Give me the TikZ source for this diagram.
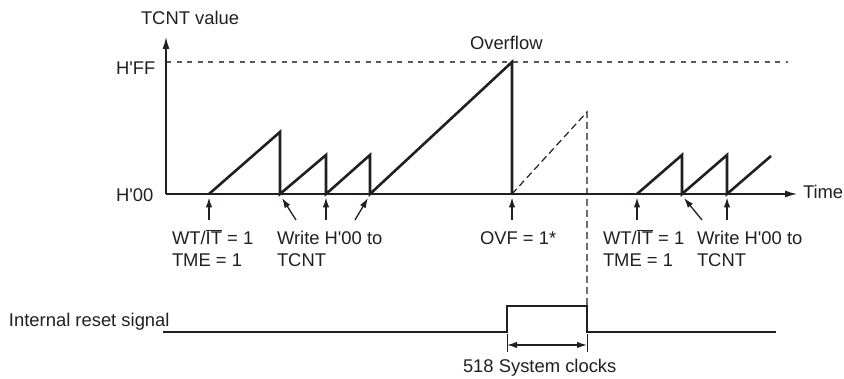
\documentclass[tikz,border=0pt]{standalone}
\usepackage{fontspec}
\setmainfont{Liberation Sans}
\usetikzlibrary{arrows.meta}
\definecolor{ink}{RGB}{35,31,32}
\newcommand{\sq}{\textquotesingle}
\begin{document}
\begin{tikzpicture}[x=1pt,y=-1pt,
 every node/.style={inner sep=0pt,outer sep=0pt,text=ink,font=\fontsize{18.4}{22}\selectfont},
 lbl/.style={anchor=base west},
 axisline/.style={draw=ink,line width=1.3pt,-{Latex[length=12pt,width=7pt]}},
 sig/.style={draw=ink,line width=2.6pt,line join=miter},
 ptr/.style={draw=ink,line width=1.3pt,-{Latex[length=10pt,width=6.5pt]}},
 refline/.style={draw=ink!75,line width=1.2pt,dash pattern=on 5pt off 5.5pt},
 ghost/.style={draw=ink,line width=1.2pt,dash pattern=on 7pt off 4pt},
 thin/.style={draw=ink,line width=0.9pt},
]
\useasboundingbox (0,0) rectangle (844,379);

% axes
\coordinate (o) at (166,194);
\coordinate (ytop) at (166,37);
\coordinate (xend) at (797,194);
\coordinate (ffL) at (166,62);
\coordinate (ffR) at (788,62);
\draw[refline] (ffL) -- (ffR);
\draw[axisline] (o) -- (ytop);
\draw[axisline] (o) -- (xend);

% sawtooth, left part
\coordinate (a0) at (209,194);
\coordinate (a1) at (280,132);
\coordinate (a2) at (280,194);
\coordinate (a3) at (326,155);
\coordinate (a4) at (326,194);
\coordinate (a5) at (370,155);
\coordinate (a6) at (370,194);
\coordinate (a7) at (512,62);
\coordinate (a8) at (512,194);
\draw[sig] (a0) -- (a1) -- (a2) -- (a3) -- (a4) -- (a5) -- (a6) -- (a7) -- (a8);

% ghost ramp after overflow
\coordinate (g1) at (587,112);
\coordinate (r3) at (587,306);
\draw[ghost] (a8) -- (g1) -- (r3);

% sawtooth, right part
\coordinate (b0) at (637,194);
\coordinate (b1) at (682,155);
\coordinate (b2) at (682,194);
\coordinate (b3) at (727,155);
\coordinate (b4) at (727,194);
\coordinate (b5) at (771,156);
\draw[sig] (b0) -- (b1) -- (b2) -- (b3) -- (b4) -- (b5);

% pointer arrows
\coordinate (p1t) at (209,220); \coordinate (p1h) at (209,197.5);
\coordinate (p2t) at (296,220); \coordinate (p2h) at (282,198);
\coordinate (p3t) at (326,220); \coordinate (p3h) at (326,197.5);
\coordinate (p4t) at (355,220); \coordinate (p4h) at (368,198);
\coordinate (p5t) at (512,220); \coordinate (p5h) at (512,197.5);
\coordinate (p6t) at (637,220); \coordinate (p6h) at (637,197.5);
\coordinate (p7t) at (702,220); \coordinate (p7h) at (684,198);
\coordinate (p8t) at (727,220); \coordinate (p8h) at (727,197.5);
\foreach \i in {1,...,8} {\draw[ptr] (p\i t) -- (p\i h);}

% labels
\node[lbl] (tcntv) at (141,25) {TCNT value};
\node[lbl] (hff) at (116,75) {H\sq FF};
\node[lbl] (h00) at (116,202) {H\sq 00};
\node[lbl] (ovfl) at (470,49.5) {Overflow};
\node[lbl] (time) at (803,198.5) {Time};
\node[lbl] (wt1) at (172,244.5) {WT/$\overline{\hbox{IT}}$ = 1};
\node[lbl] (tme1) at (172,266.5) {TME = 1};
\node[lbl] (wr1) at (277,244.5) {Write H\sq 00 to};
\node[lbl] (tc1) at (277,266.5) {TCNT};
\node[lbl] (ovf) at (480,244.5) {OVF = 1*};
\node[lbl] (wt2) at (603,244.5) {WT/$\overline{\hbox{IT}}$ = 1};
\node[lbl] (tme2) at (603,266.5) {TME = 1};
\node[lbl] (wr2) at (697,244.5) {Write H\sq 00 to};
\node[lbl] (tc2) at (697,266.5) {TCNT};

% reset signal
\node[lbl] (irs) at (9,326.7) {Internal reset signal};
\coordinate (r0) at (163,332);
\coordinate (r1) at (507,332);
\coordinate (r2) at (507,306);
\coordinate (r4) at (587,332);
\coordinate (r5) at (776,332);
\draw[sig] (r0) -- (r1) -- (r2) -- (r3) -- (r4) -- (r5);

% dimension
\coordinate (t1a) at (507,334); \coordinate (t1b) at (507,352);
\coordinate (t2a) at (587,334); \coordinate (t2b) at (587,352);
\draw[thin] (t1a) -- (t1b);
\draw[thin] (t2a) -- (t2b);
\coordinate (d1) at (507,345);
\coordinate (d2) at (587,345);
\draw[ptr,{Latex[length=10pt,width=6.5pt]}-{Latex[length=10pt,width=6.5pt]}] (d1) -- (d2);
\node[lbl] (clk) at (463,373) {518 System clocks};
\end{tikzpicture}
\end{document}
